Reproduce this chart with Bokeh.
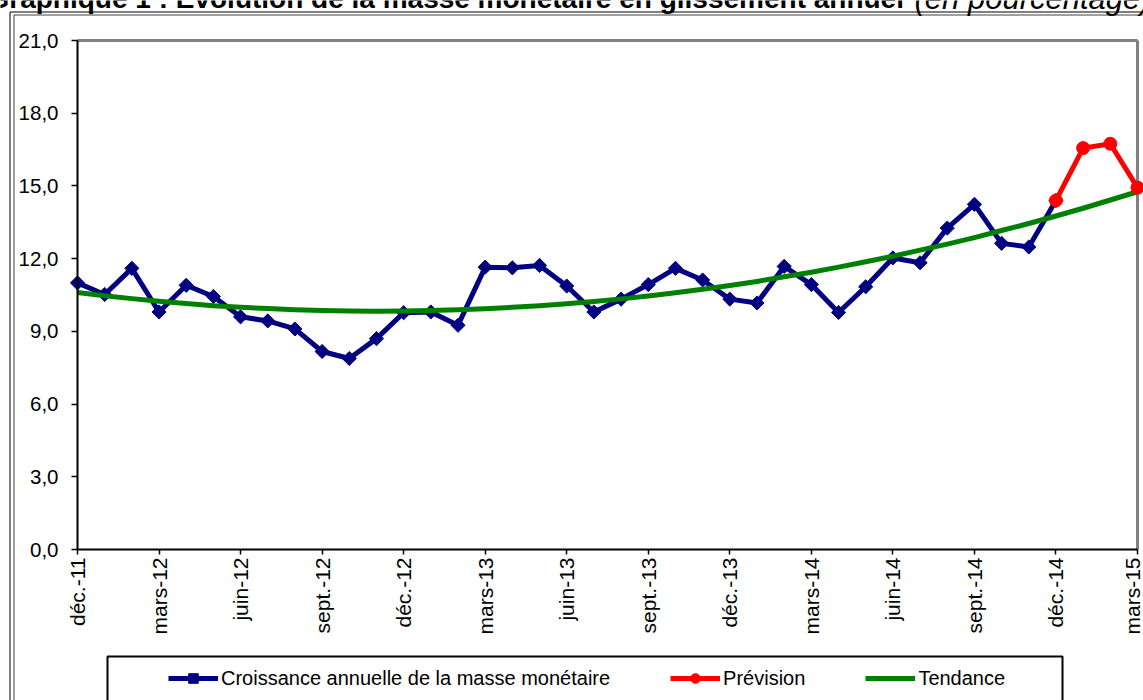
import math

from bokeh.embed import file_html
from bokeh.models import (BoxAnnotation, FixedTicker, Label, Legend, LegendItem,
                          LinearAxis, Range1d)
from bokeh.plotting import figure
from bokeh.resources import INLINE

# Monthly series, déc.-11 .. mars-15 (month index 0 .. 39)
croissance = [11.0, 10.52, 11.6, 9.8, 10.9, 10.44, 9.6, 9.43, 9.1, 8.17, 7.88, 8.7,
              9.77, 9.8, 9.25, 11.65, 11.62, 11.72, 10.87, 9.8, 10.33, 10.93, 11.6, 11.12,
              10.33, 10.17, 11.68, 10.93, 9.78, 10.84, 12.03, 11.83, 13.26, 14.24, 12.63, 12.48,
              14.4]
prevision = [14.4, 16.56, 16.74, 14.93]
tendance = [10.60, 10.47, 10.35, 10.24, 10.15, 10.06, 9.99, 9.94, 9.89, 9.86, 9.84, 9.83,
            9.84, 9.86, 9.89, 9.93, 9.99, 10.06, 10.14, 10.23, 10.34, 10.46, 10.59, 10.74,
            10.89, 11.06, 11.25, 11.44, 11.65, 11.87, 12.10, 12.35, 12.60, 12.87, 13.16, 13.45,
            13.76, 14.08, 14.42, 14.76]

x_ticks = [0, 3, 6, 9, 12, 15, 18, 21, 24, 27, 30, 33, 36, 39]
x_labels = ["déc.-11", "mars-12", "juin-12", "sept.-12", "déc.-12", "mars-13", "juin-13",
            "sept.-13", "déc.-13", "mars-14", "juin-14", "sept.-14", "déc.-14", "mars-15"]
y_ticks = [0, 3, 6, 9, 12, 15, 18, 21]
y_labels = ["0,0", "3,0", "6,0", "9,0", "12,0", "15,0", "18,0", "21,0"]

titre = "Graphique 1 : Evolution de la masse monétaire en glissement annuel"
sous_titre = "(en pourcentage)"

FONT = "Liberation Sans"
BLUE = "#000080"
RED = "#FF0000"
GREEN = "#008000"

W, H = 1143, 700
# pixel box of the plotting area inside the canvas
AREA_L, AREA_R, AREA_T, AREA_B = 77, 1137, 40, 549
X_MIN, X_MAX = 0, 39
Y_MIN, Y_MAX = 0, 21

px_x = (AREA_R - AREA_L) / (X_MAX - X_MIN)
px_y = (AREA_B - AREA_T) / (Y_MAX - Y_MIN)

x_cro = list(range(len(croissance)))
x_prev = list(range(len(croissance) - 1, len(croissance) - 1 + len(prevision)))
x_tend = list(range(len(tendance)))

# the frame covers the whole canvas so that headings, legend and borders stay visible;
# the axes are pinned to the data origin
p = figure(width=W, height=H, output_backend="svg", toolbar_location=None,
           x_axis_type=None, y_axis_type=None,
           x_range=Range1d(X_MIN - AREA_L / px_x, X_MAX + (W - AREA_R) / px_x),
           y_range=Range1d(Y_MIN - (H - AREA_B) / px_y, Y_MAX + AREA_T / px_y))
p.min_border = 0
p.outline_line_color = None
p.background_fill_color = "white"
p.border_fill_color = "white"

# grey top and right edges of the plotting area
p.segment(x0=[X_MIN, X_MAX], y0=[Y_MAX, Y_MIN], x1=[X_MAX, X_MAX], y1=[Y_MAX, Y_MAX],
          line_color="#808080", line_width=3)

# y axis
ya = LinearAxis(fixed_location=X_MIN, bounds=(Y_MIN, Y_MAX))
ya.ticker = FixedTicker(ticks=y_ticks)
ya.major_label_overrides = dict(zip(y_ticks, y_labels))
ya.axis_line_color = "black"
ya.axis_line_width = 2
ya.major_tick_line_color = "black"
ya.major_tick_line_width = 1.5
ya.major_tick_out = 6
ya.major_tick_in = 0
ya.minor_tick_out = 0
ya.minor_tick_in = 0
ya.major_label_standoff = 13
ya.major_label_text_font = FONT
ya.major_label_text_font_size = "20.5px"
ya.major_label_text_color = "black"
p.add_layout(ya, "left")

# x axis
xa = LinearAxis(fixed_location=Y_MIN, bounds=(X_MIN, X_MAX))
xa.ticker = FixedTicker(ticks=x_ticks)
xa.major_label_overrides = dict(zip(x_ticks, x_labels))
xa.major_label_orientation = math.pi / 2
xa.axis_line_color = "black"
xa.axis_line_width = 2
xa.major_tick_line_color = "black"
xa.major_tick_line_width = 1.5
xa.major_tick_out = 5
xa.major_tick_in = 0
xa.minor_tick_out = 0
xa.minor_tick_in = 0
xa.major_label_standoff = 3
xa.major_label_text_font = FONT
xa.major_label_text_font_size = "21px"
xa.major_label_text_color = "black"
p.add_layout(xa, "below")

# series
bl = p.line(x_cro, croissance, line_color=BLUE, line_width=5, line_join="round")
bm = p.scatter(x_cro, croissance, marker="square", angle=math.pi / 4, size=10,
               fill_color=BLUE, line_color=BLUE)
gl = p.line(x_tend, tendance, line_color=GREEN, line_width=5, line_join="round")
rl = p.line(x_prev, prevision, line_color=RED, line_width=5, line_join="round")
rm = p.scatter(x_prev, prevision, marker="circle", size=13, fill_color=RED, line_color=RED)

# legend (screen units measured from the lower-left corner)
legend = Legend(items=[
    LegendItem(label="Croissance annuelle de la masse monétaire", renderers=[bl, bm]),
    LegendItem(label="Prévision", renderers=[rl, rm]),
    LegendItem(label="Tendance", renderers=[gl]),
], orientation="horizontal", location=(168, 10), padding=0, margin=0, spacing=60,
    glyph_width=50, glyph_height=24, label_height=24, label_standoff=3,
    border_line_color=None, background_fill_alpha=0,
    label_text_font=FONT, label_text_font_size="20px", label_text_color="black")
p.add_layout(legend)

# legend frame
p.add_layout(BoxAnnotation(left=107, right=1062, top=H - 656, bottom=-100,
                           left_units="screen", right_units="screen",
                           top_units="screen", bottom_units="screen",
                           fill_alpha=0, line_color="black", line_alpha=1, line_width=2))

# double outer border
for dx, dy, col in ((9.5, 11.5, "black"), (13.5, 14.5, "#404040")):
    p.add_layout(BoxAnnotation(left=dx, right=W + 100, top=H - dy, bottom=-100,
                               left_units="screen", right_units="screen",
                               top_units="screen", bottom_units="screen",
                               fill_alpha=0, line_color=col, line_alpha=1, line_width=1))

# heading
p.add_layout(Label(x=-13, y=H + 2, x_units="screen", y_units="screen", text=titre,
                   text_font=FONT, text_font_style="bold", text_font_size="28px",
                   text_baseline="alphabetic", text_align="left", text_color="black"))
p.add_layout(Label(x=914, y=H + 2, x_units="screen", y_units="screen", text=sous_titre,
                   text_font=FONT, text_font_style="italic", text_font_size="31px",
                   text_baseline="alphabetic", text_align="left", text_color="black"))

open("out.html", "w").write(file_html(p, INLINE))
